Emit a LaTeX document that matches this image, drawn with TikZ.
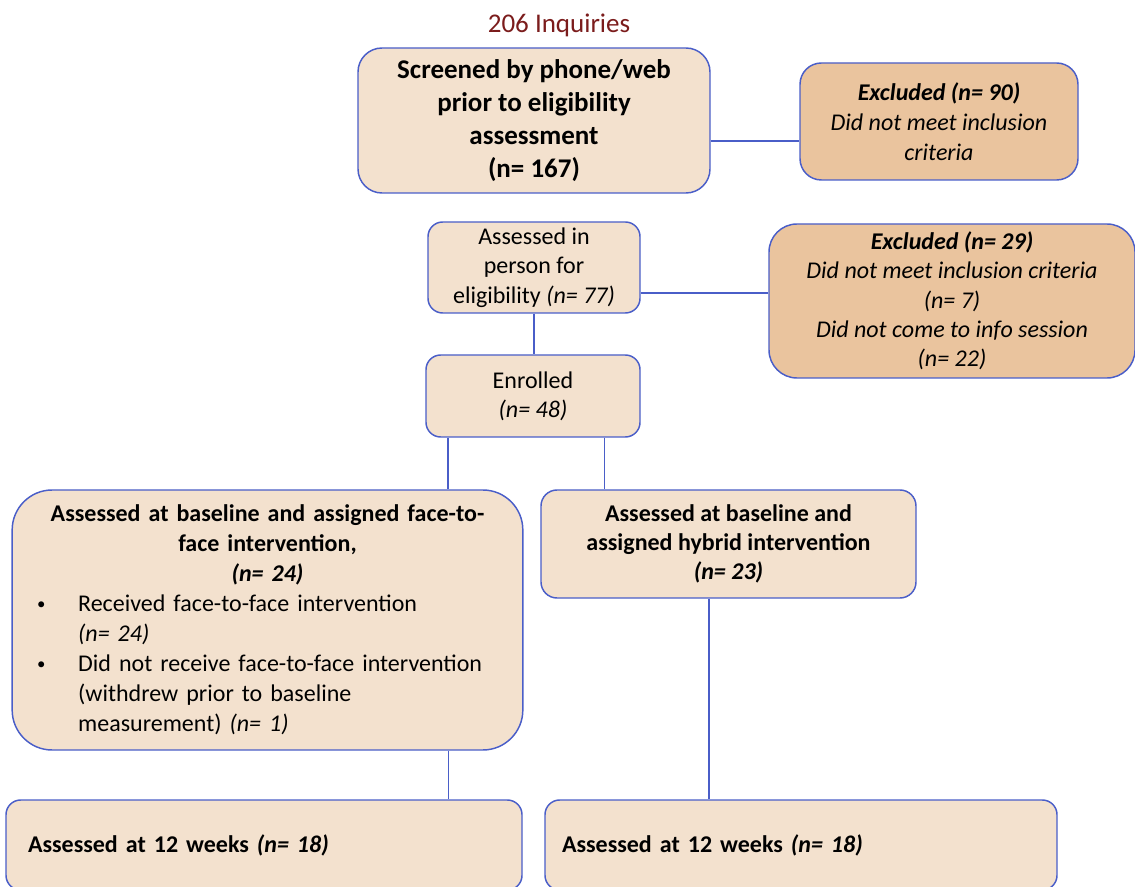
\documentclass[tikz,border=0pt]{standalone}
\usepackage{fontspec}
\setmainfont{Carlito}
\usetikzlibrary{positioning,calc}

\definecolor{boxfill}{HTML}{F3E1CE}
\definecolor{exclfill}{HTML}{EAC49E}
\definecolor{edgeblue}{HTML}{4A5EC8}
\definecolor{titlered}{HTML}{7B1C1C}

% one row of the bullet list in the face-to-face box
\newcommand{\armrow}[2]{\makebox[\linewidth][l]{\hspace{9.75pt}\makebox[30.75pt][l]{#1}#2}}
\newcommand{\armdot}{\raisebox{1.5pt}{\scalebox{0.7}{\textbullet}}}

\begin{document}
\begin{tikzpicture}[x=0.75pt, y=-0.75pt,
  stage/.style={draw=edgeblue, fill=boxfill, line width=1.1pt, align=center,
                inner sep=0pt, font=\fontsize{18}{22}\selectfont},
  excl/.style={stage, fill=exclfill},
  link/.style={draw=edgeblue, line width=1.1pt}]
  \clip (0,0) rectangle (1135,887);

  \node (inq) at (559,25) [text=titlered, font=\fontsize{20.25}{24}\selectfont]
    {206 Inquiries};
  \node (screen) at (534,120.5) [stage, minimum width=264pt, minimum height=108.75pt,
               rounded corners=18pt, font=\fontsize{20.25}{24.75}\selectfont\bfseries]
    {Screened by phone/web\\ prior to eligibility\\ assessment\\ (n= 167)};
  \node (excl1) at (939,121.5) [excl, minimum width=208.5pt, minimum height=87.75pt,
              rounded corners=16pt, font=\fontsize{18}{22.5}\selectfont\itshape]
    {\textbf{Excluded (n= 90)}\\ Did not meet inclusion\\ criteria};

  \node (assess) at (534,267.5) [stage, minimum width=159pt, minimum height=68.25pt,
               rounded corners=11pt]
    {Assessed in\\ person for\\ eligibility \textit{(n= 77)}};
  \node (excl2) at (952,301) [excl, minimum width=274.5pt, minimum height=115.5pt,
              rounded corners=21pt, font=\fontsize{18}{22}\selectfont\itshape]
    {\textbf{Excluded (n= 29)}\\ Did not meet inclusion criteria\\ (n= 7)\\
     Did not come to info session\\ (n= 22)};
  \node (enrol) at (533,396) [stage, minimum width=160.5pt, minimum height=61.5pt,
              rounded corners=11pt]
    {Enrolled\\ \textit{(n= 48)}};

  \node (face) at (267.5,620) [stage, text width=365pt, inner xsep=9pt,
             minimum height=195pt, rounded corners=30pt,
             font=\fontsize{18}{22.5}\selectfont]
    {\textbf{Assessed at baseline and assigned face-to-}\\
     \textbf{face intervention,}\\
     \textbf{\textit{(n= 24)}}\\
     \armrow{\armdot}{Received face-to-face intervention}\\
     \armrow{}{\textit{(n= 24)}}\\
     \armrow{\armdot}{Did not receive face-to-face intervention}\\
     \armrow{}{(withdrew prior to baseline}\\
     \armrow{}{measurement) \textit{(n= 1)}}};
  \node (hybrid) at (728.5,544) [stage, minimum width=281.25pt, minimum height=81pt,
               rounded corners=12pt, font=\fontsize{18}{22}\selectfont\bfseries]
    {Assessed at baseline and\\ assigned hybrid intervention\\ \textit{(n= 23)}};

  \node (wkface) at (264,845) [stage, align=left, text width=354pt, inner xsep=16.5pt,
               minimum height=67.5pt, rounded corners=11pt]
    {\textbf{Assessed at 12 weeks \textit{(n= 18)}}};
  \node (wkhybrid) at (801,845) [stage, align=left, text width=358.5pt, inner xsep=12.75pt,
                 minimum height=67.5pt, rounded corners=11pt]
    {\textbf{Assessed at 12 weeks \textit{(n= 18)}}};

  % connectors
  \coordinate (s1) at ($(screen.east)+(0,20.5)$);
  \coordinate (a1) at ($(assess.east)+(0,25.5)$);
  \coordinate (e1) at ($(enrol.south west)+(22.5,0)$);
  \coordinate (e2) at ($(enrol.south east)+(-36.5,0)$);
  \coordinate (f1) at ($(face.south east)+(-75,0)$);
  \coordinate (h1) at ($(hybrid.south)+(-19.5,0)$);

  \draw[link] (s1) -- (s1 -| excl1.west);
  \draw[link] (a1) -- (a1 -| excl2.west);
  \draw[link] (assess.south) -- (assess.south |- enrol.north);
  \draw[link] (e1) -- (e1 |- face.north);
  \draw[link] (e2) -- (e2 |- hybrid.north);
  \draw[link] (f1) -- (f1 |- wkface.north);
  \draw[link] (h1) -- (h1 |- wkhybrid.north);
\end{tikzpicture}
\end{document}
